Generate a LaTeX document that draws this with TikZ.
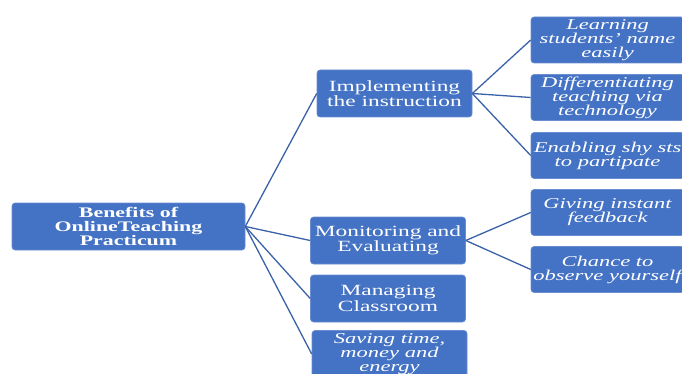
\documentclass[tikz,border=0pt]{standalone}
\usepackage{fontspec}
\setmainfont[FakeStretch=1.5]{Liberation Serif}
\begin{document}
\begin{tikzpicture}[x=1pt,y=-1pt,
  box/.style={fill=boxblue, draw=boxedge, line width=0.6pt, rounded corners=3pt, inner sep=0pt,
    text=white, align=center, minimum height=47pt},
  rootbox/.style={box, minimum width=233pt, font=\fontsize{14.6}{13.6}\selectfont\bfseries},
  midbox/.style={box, minimum width=155pt, font=\fontsize{15.6}{13.8}\selectfont},
  leafbox/.style={box, minimum width=153pt, minimum height=46pt, font=\fontsize{15}{14}\selectfont\itshape},
  link/.style={draw=linkblue, line width=1.3pt}]
\definecolor{boxblue}{HTML}{4472C4}
\definecolor{boxedge}{HTML}{6A8ED0}
\definecolor{linkblue}{HTML}{3A62A8}
\useasboundingbox (0,0) rectangle (682,374);
\clip (0,0) rectangle (682,374);
\node[rootbox] (root) at (128.5,226.5) {Benefits of\\OnlineTeaching\\Practicum};
\node[midbox] (impl) at (394.5,93.5) {Implementing\\the instruction};
\node[midbox] (mon) at (388,240.5) {Monitoring and\\Evaluating};
\node[midbox] (man) at (388,298.5) {Managing\\Classroom};
\node[midbox, font=\fontsize{15}{14}\selectfont\itshape] (sav) at (389.5,354) {Saving time,\\money and\\energy};
\node[leafbox] (learn) at (607.5,40) {Learning\\students' name\\easily};
\node[leafbox] (diff) at (607.5,97.5) {Differentiating\\teaching via\\technology};
\node[leafbox] (enab) at (607.5,155.5) {Enabling shy sts\\to partipate};
\node[leafbox] (give) at (607.5,212.5) {Giving instant\\feedback};
\node[leafbox] (chance) at (607.5,269.5) {Chance to\\observe yourself};
\foreach \t in {impl,mon,man,sav} \draw[link] (root.east) -- (\t.west);
\foreach \t in {learn,diff,enab} \draw[link] (impl.east) -- (\t.west);
\foreach \t in {give,chance} \draw[link] (mon.east) -- (\t.west);
\end{tikzpicture}
\end{document}
